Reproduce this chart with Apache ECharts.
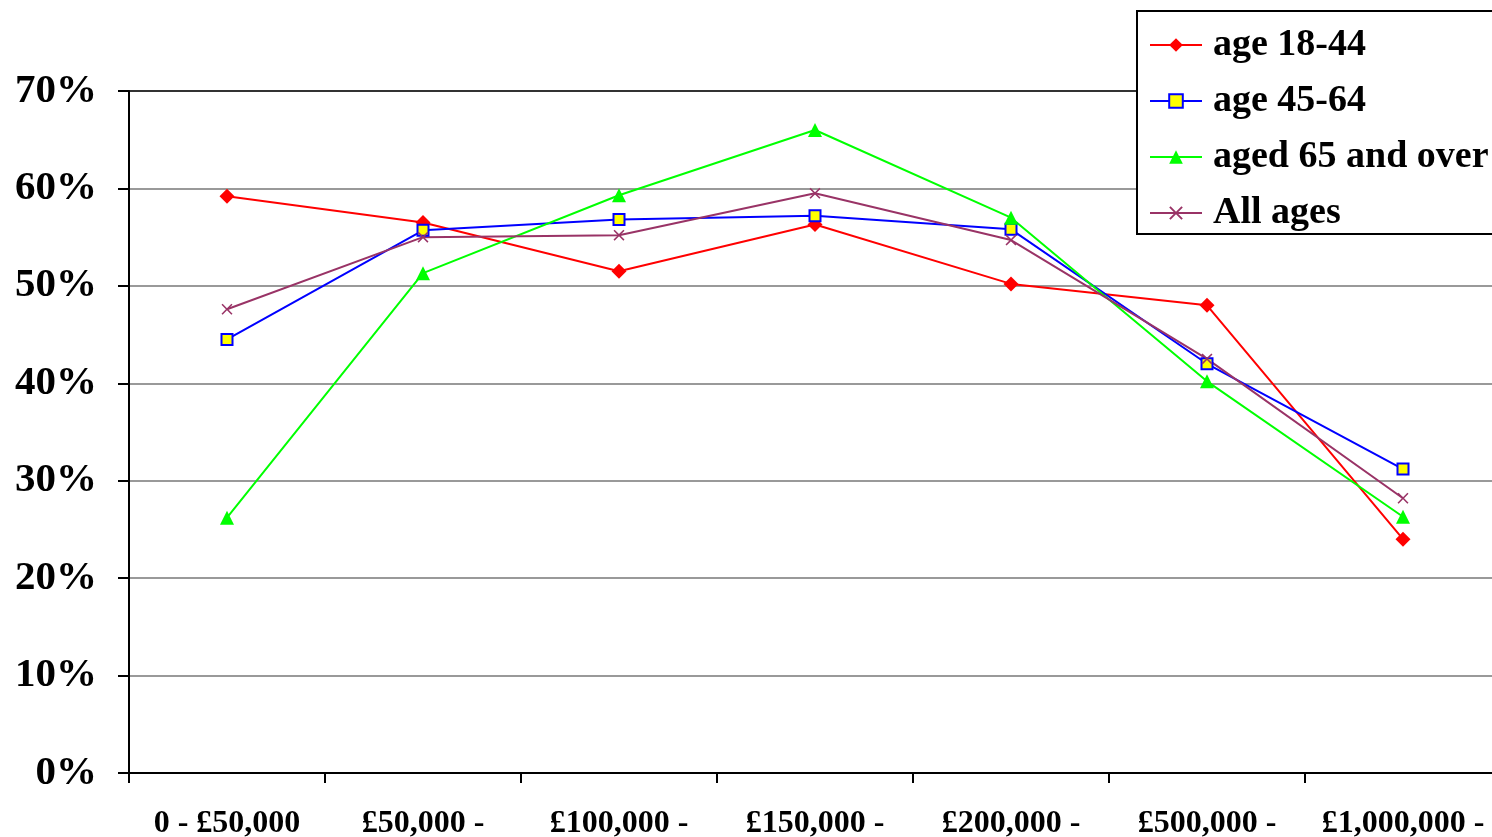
<!DOCTYPE html>
<html>
<head>
<meta charset="utf-8">
<script src="https://cdn.jsdelivr.net/npm/echarts@6/dist/echarts.min.js"></script>
<style>
  html, body { margin: 0; padding: 0; background: #fff; }
  #main { width: 1492px; height: 837px; }
</style>
</head>
<body>
<div id="main"></div>
<script>
const categories = ['0 - £50,000', '£50,000 -', '£100,000 -', '£150,000 -', '£200,000 -', '£500,000 -', '£1,000,000 -']
const age1844 = [59.2, 56.5, 51.5, 56.3, 50.2, 48.0, 24.0]
const age4564 = [44.5, 55.7, 56.8, 57.2, 55.8, 42.0, 31.2]
const age65over = [26.2, 51.3, 59.3, 66.0, 57.0, 40.2, 26.3]
const allAges = [47.6, 55.0, 55.2, 59.5, 54.7, 42.5, 28.2]

const FONT = 'Liberation Serif'
const crossPath = 'path://M0,1L1,0L5,4L9,0L10,1L6,5L10,9L9,10L5,6L1,10L0,9L4,5Z'

let myChart = echarts.init(document.getElementById('main'))
myChart.setOption({
  animation: false,
  grid: { left: 129, top: 91, width: 1372, height: 682, outerBoundsMode: 'none', containLabel: false },
  legend: {
    orient: 'vertical',
    left: 1137,
    top: 11,
    padding: [14, 30, 1, 12],
    backgroundColor: '#fff',
    borderColor: '#000',
    borderWidth: 2,
    itemWidth: 52,
    itemHeight: 17,
    itemGap: 16,
    textStyle: { fontFamily: FONT, fontWeight: 'bold', fontSize: 38, color: '#000', lineHeight: 40, padding: [0, 0, 0, 6] },
    data: ['age 18-44', 'age 45-64', 'aged 65 and over', 'All ages']
  },
  xAxis: {
    type: 'category',
    data: categories,
    boundaryGap: true,
    axisLine: { lineStyle: { color: '#000', width: 2 } },
    axisTick: { show: true, length: 10, lineStyle: { color: '#000', width: 2 } },
    axisLabel: { fontFamily: FONT, fontWeight: 'bold', fontSize: 32, color: '#000', margin: 35, interval: 0 }
  },
  yAxis: {
    type: 'value',
    min: 0,
    max: 70,
    interval: 10,
    axisLine: { show: true, lineStyle: { color: '#000', width: 2 } },
    axisTick: { show: true, length: 11, lineStyle: { color: '#000', width: 2 } },
    axisLabel: { formatter: '{value}%', fontFamily: FONT, fontWeight: 'bold', fontSize: 41, color: '#000', margin: 32 },
    splitLine: { lineStyle: { color: ['#999', '#999', '#999', '#999', '#999', '#999', '#999', '#333'], width: 2 } }
  },
  series: [
    {
      name: 'age 18-44',
      type: 'line',
      data: age1844,
      symbol: 'diamond',
      symbolSize: 15,
      lineStyle: { color: '#ff0000', width: 2 },
      itemStyle: { color: '#ff0000' }
    },
    {
      name: 'age 45-64',
      type: 'line',
      data: age4564,
      symbol: 'rect',
      symbolSize: 11,
      lineStyle: { color: '#0000ff', width: 2 },
      itemStyle: { color: '#ffff00', borderColor: '#0000ff', borderWidth: 2 }
    },
    {
      name: 'aged 65 and over',
      type: 'line',
      data: age65over,
      symbol: 'triangle',
      symbolSize: 14,
      lineStyle: { color: '#00ff00', width: 2 },
      itemStyle: { color: '#00ff00' }
    },
    {
      name: 'All ages',
      type: 'line',
      data: allAges,
      symbol: crossPath,
      symbolSize: 11,
      lineStyle: { color: '#993366', width: 2 },
      itemStyle: { color: '#993366' }
    }
  ]
})
</script>
</body>
</html>
